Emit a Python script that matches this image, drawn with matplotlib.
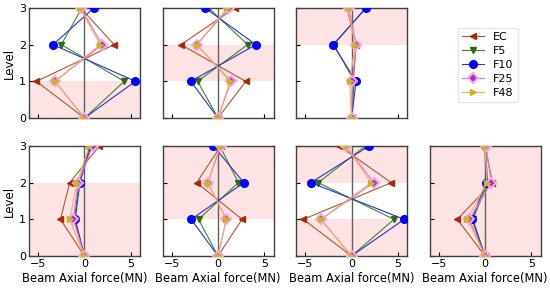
import matplotlib
matplotlib.use("Agg")
import matplotlib.pyplot as plt

levels = [0, 1, 2, 3]
series = ["EC", "F5", "F10", "F25", "F48"]

# values per panel: series -> forces at levels 0..3
panel1 = {"EC": [0, -5.2, 3.2, -0.4], "F5": [0, 4.3, -2.5, -0.3], "F10": [0, 5.5, -3.4, 1.0],
          "F25": [0, -3.2, 1.9, -0.4], "F48": [0, -3.2, 1.7, -0.5]}
panel2 = {"EC": [0, 3.0, -4.0, 1.8], "F5": [0, -2.2, 3.2, -1.0], "F10": [0, -2.95, 4.1, -1.4],
          "F25": [0, 1.4, -2.3, 1.2], "F48": [0, 1.3, -2.3, 1.0]}
panel3 = {"EC": [0, 0.2, 0.5, -0.5], "F5": [0, 0.3, -1.9, 1.5], "F10": [0, 0.5, -2.0, 1.6],
          "F25": [0, 0.1, 0.5, -0.3], "F48": [0, -0.2, 0.4, -0.4]}
panel4 = {"EC": [0, -2.6, -1.6, 1.6], "F5": [0, -1.1, -0.6, 0.6], "F10": [0, -1.0, -0.5, 0.7],
          "F25": [0, -1.2, -0.7, 0.9], "F48": [0, -1.6, -0.8, 0.5]}
panel5 = {"EC": [0, 2.6, -2.3, 0.3], "F5": [0, -2.1, 2.2, 0.2], "F10": [0, -2.9, 2.8, -0.5],
          "F25": [0, 0.9, -1.1, 0.3], "F48": [0, 0.9, -1.1, 0.2]}
panel6 = {"EC": [0, -5.2, 4.3, -1.3], "F5": [0, 4.6, -3.6, 1.5], "F10": [0, 5.7, -4.4, 1.9],
          "F25": [0, -3.3, 2.4, -0.6], "F48": [0, -3.3, 2.1, -0.6]}
panel7 = {"EC": [0, -3.0, 0.8, 0.0], "F5": [0, -1.3, 0.3, 0.0], "F10": [0, -1.4, 0.1, 0.0],
          "F25": [0, -1.7, 0.7, 0.1], "F48": [0, -1.9, 0.2, 0.0]}

# shaded level bands per panel
shade1 = [(0, 1)]
shade2 = [(1, 2)]
shade3 = [(2, 3)]
shade4 = [(0, 2)]
shade5 = [(1, 3)]
shade6 = [(0, 1), (2, 3)]
shade7 = [(0, 3)]

panels = [panel1, panel2, panel3, panel4, panel5, panel6, panel7]
shades = [shade1, shade2, shade3, shade4, shade5, shade6, shade7]

styles = {
    "EC": dict(color="#b5552a", marker="<", mfc="#a52a0a", mec="#a52a0a", ms=5),
    "F5": dict(color="#3a8a2a", marker="v", mfc="#2f6a10", mec="#2f6a10", ms=5),
    "F10": dict(color="#3030d0", marker="o", mfc="#0000ff", mec="#0000ff", ms=5.5),
    "F25": dict(color="#e070e0", marker="D", mfc="#9932cc", mec="#ffa0f0", ms=5, mew=1.5),
    "F48": dict(color="#f0b060", marker=">", mfc="#c8b818", mec="#c8b818", ms=5),
}

fig = plt.figure(figsize=(5.5, 2.91), dpi=100)
W, H = 550, 291
lefts = [29, 162.5, 296, 429.5]
tops = [8, 146]
aw, ah = 111, 110

positions = [(0, 0), (0, 1), (0, 2), (1, 0), (1, 1), (1, 2), (1, 3)]
handles = None
for idx, (r, c) in enumerate(positions):
    ax = fig.add_axes([lefts[c] / W, 1 - (tops[r] + ah) / H, aw / W, ah / H])
    for (a, b) in shades[idx]:
        ax.axhspan(a, b, color="#fde3e3", lw=0, zorder=0)
    ax.axvline(0, color="#606060", lw=1, zorder=1)
    hs = []
    for s in series:
        st = dict(styles[s])
        h, = ax.plot(panels[idx][s], levels, lw=0.8, label=s, zorder=3, **st)
        hs.append(h)
    handles = hs
    ax.set_xlim(-6, 6)
    ax.set_ylim(0, 3)
    ax.set_xticks([-5, 0, 5])
    ax.set_yticks([0, 1, 2, 3])
    ax.tick_params(direction="in", labelsize=8, length=3, pad=2)
    for sp in ax.spines.values():
        sp.set_color("#404040")
        sp.set_linewidth(1.0)
    if c == 0:
        ax.set_ylabel("Level", fontsize=8.5, labelpad=2)
    else:
        ax.set_yticklabels([])
    if r == 1:
        ax.set_xlabel("Beam Axial force(MN)", fontsize=8.3, labelpad=2)
    else:
        ax.set_xticklabels([])

fig.legend(handles=handles, labels=series, loc="upper left",
           bbox_to_anchor=(452 / W, 1 - 22 / H), fontsize=8, frameon=True,
           handlelength=2, labelspacing=0.35, borderpad=0.4, edgecolor="#e0e0e0")

fig.savefig("out.png", dpi=100)
